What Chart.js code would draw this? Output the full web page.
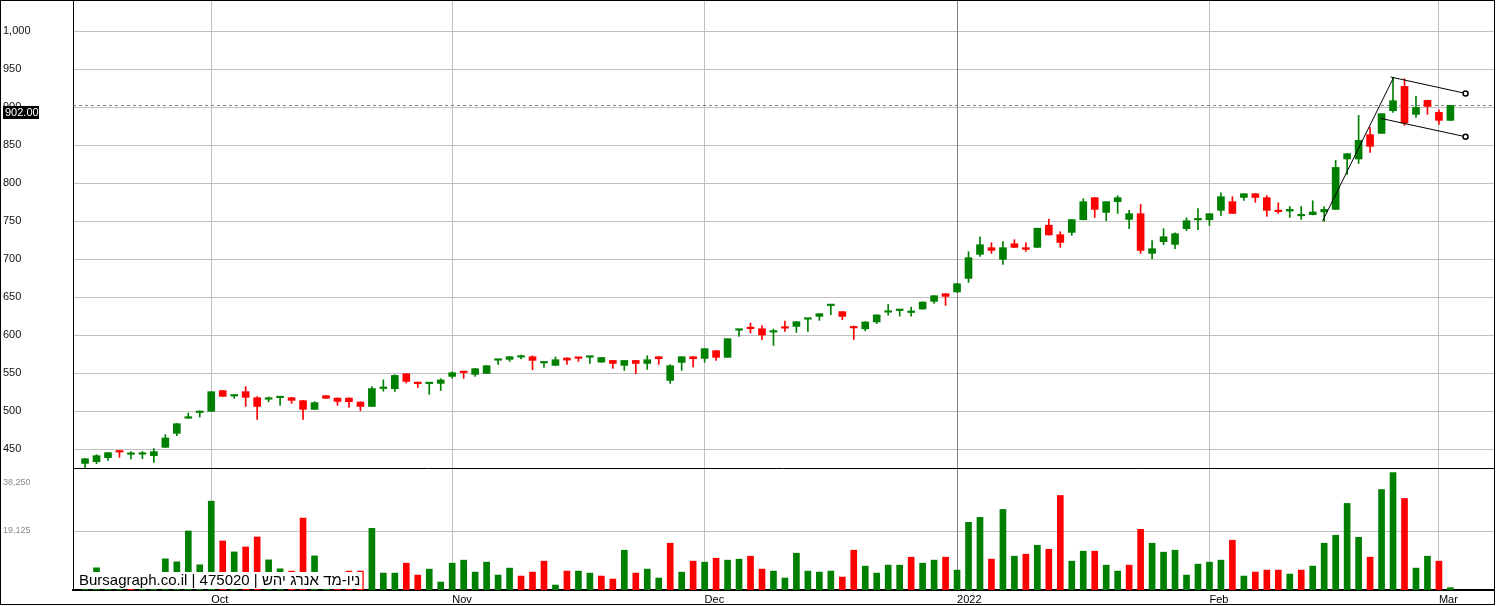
<!DOCTYPE html>
<html>
<head>
<meta charset="utf-8">
<script src="https://cdn.jsdelivr.net/npm/chart.js@4.4.1/dist/chart.umd.min.js"></script>
<style>
  html, body { margin: 0; padding: 0; background: #fff; }
  #wrap { width: 1496px; height: 606px; }
</style>
</head>
<body>
<div id="wrap"><canvas id="chart" width="1496" height="606"></canvas></div>
<script>
Chart.defaults.font.family = '"Liberation Sans", Arial, sans-serif';

// daily candles, Sep 2021 - Mar 2022 (index 0 = first session shown)
const opens = [
  431, 433.3, 438.6, 447.4, 443, 443.2, 441.2, 452.2, 470.6, 490.5,
  498, 499.6, 526.8, 519.7, 525.4, 517.5, 515.5, 517.5, 517.5, 513.6,
  502.2, 520.2, 517, 517, 511.8, 506, 529.6, 529.3, 549, 536.8,
  536, 536.3, 545.5, 550.9, 548.2, 549.5, 566.8, 567.9, 570.9, 571.4,
  563.2, 560, 569.7, 570, 570.8, 564.3, 566.5, 560, 566.5, 562.6,
  571.4, 540.3, 563.9, 571.4, 569.2, 579.4, 570.6, 606.3, 609, 608.3,
  603.8, 609.5, 611.3, 620.8, 624.5, 638.7, 630.7, 610, 608.1, 617.2,
  630, 632.2, 629.6, 634.2, 644.2, 654.3, 656.6, 674.5, 706.1, 714.9,
  699.5, 720.1, 714.9, 715.3, 744.5, 732, 735, 751.7, 780.7, 761.3,
  775.4, 752.1, 759.6, 707.4, 722.8, 719.2, 739.9, 751.5, 751.7, 764,
  775.4, 781, 785.9, 780.7, 763, 763, 756.8, 758.3, 761.9, 765.3,
  831.6, 831.6, 863.6, 865.3, 895.1, 927.1, 890.3, 908.7, 892.9, 882.4
];
const highs = [
  437.5, 442.5, 445.5, 448, 446.5, 446.6, 450.4, 469, 483.5, 497.5,
  500, 525.5, 527, 521.7, 532, 519, 518.5, 518.5, 518, 514,
  512.3, 520.5, 517.2, 517.2, 512, 532, 541, 547.7, 549.2, 538,
  537, 542.5, 551.7, 551.2, 556, 560, 567.5, 571.8, 573.7, 572.7,
  565.3, 571.1, 570, 570.2, 571.4, 570.6, 566.7, 566.7, 566.7, 572.8,
  571.6, 561, 571.5, 571.5, 582.2, 579.5, 595.3, 607, 615.8, 612.3,
  607.9, 618.4, 617.7, 621.3, 628.2, 639.2, 630.8, 611.8, 617.5, 626.6,
  640.2, 632.6, 636.8, 643.5, 651.8, 654.5, 667.6, 709.6, 729.3, 721.4,
  722.8, 725.4, 721.4, 740.6, 752.4, 735.9, 752, 779.3, 781, 775.6,
  783.3, 764, 771.8, 724.1, 739.9, 734.6, 754.3, 766.2, 759.7, 787.2,
  782, 786, 786, 783.3, 774.1, 769.1, 769.1, 776.7, 768.8, 829.7,
  838.8, 889, 873.2, 891.3, 938.6, 937.2, 914, 909, 896.4, 902.4
];
const lows = [
  425, 430.7, 435, 439, 437, 437.2, 432.5, 452, 467.5, 490.4,
  492, 499.5, 519, 516.7, 506, 489, 512, 507.5, 510, 489,
  502, 516.5, 507.4, 504.7, 500.5, 506, 526, 525.8, 536.8, 531,
  522, 527, 543, 543, 545.5, 549.3, 561.3, 565.3, 568.4, 554.3,
  557.4, 560, 561.3, 565.3, 562.6, 564.2, 556, 553.4, 549, 554.7,
  561.3, 536.3, 553.4, 558, 564.3, 566.5, 570.5, 598.2, 602.6, 593.8,
  586.3, 604.8, 603.4, 604.8, 619.2, 626.7, 620, 594.2, 605.4, 615,
  626, 624.8, 624.8, 634, 641.6, 639, 656.5, 669.2, 703.4, 707.4,
  692.9, 715, 710, 715.2, 731.5, 715.3, 731.1, 751.5, 754.7, 750.4,
  760, 739.9, 707.4, 700.4, 718.8, 713.6, 737.2, 738.6, 743.8, 757.4,
  760, 777.1, 774.5, 756.1, 760, 754.7, 752.1, 758, 749.5, 765,
  811.3, 825.7, 840.3, 865.2, 892.9, 875.8, 886.3, 890.3, 877.1, 882.3
];
const closes = [
  437.2, 441.2, 445.2, 446, 443.5, 443.6, 446.5, 464.5, 483.3, 491,
  498.5, 525.4, 519.3, 521.5, 518, 506, 516, 518, 514, 502.2,
  511, 516.7, 512.6, 512.2, 506, 529.5, 530, 546.8, 539, 536,
  536.5, 540.8, 550.4, 550.6, 555.7, 559.6, 567.3, 571.4, 571.2, 566.6,
  564.5, 567.5, 567, 569.3, 571.2, 570.4, 562.6, 566.5, 562.6, 567.5,
  568.8, 559.6, 571.4, 568.8, 582, 570.6, 595.1, 606.8, 608.3, 600,
  604.3, 609, 617.5, 621.3, 628, 639.2, 624.5, 609.3, 617.2, 626.4,
  630.6, 632.6, 630, 643.4, 651.7, 650.8, 667.5, 701.7, 718.8, 711.3,
  714.9, 715.3, 712.6, 740.5, 731.7, 721.8, 751.8, 775.4, 765.3, 775.4,
  780.7, 759.6, 711.3, 713.6, 729.3, 733.3, 750.4, 752, 759.6, 782,
  760, 785.9, 781, 764, 762.3, 765.3, 757.2, 761.9, 765.3, 820.5,
  838.6, 856.1, 848.2, 891.2, 908.3, 878.9, 899.5, 900.8, 882.4, 902
];
const volumes = [
  3000, 7190, 3500, 2500, 3000, 2800, 4000, 10100, 9130, 19125,
  8160, 28800, 15900, 12350, 13960, 17190, 9770, 6870, 6130, 23300,
  11060, 3500, 4000, 6130, 6130, 20000, 5480, 5480, 8700, 4840,
  6770, 2580, 8700, 9680, 5800, 9030, 4840, 7100, 4520, 5800,
  9350, 1610, 6130, 6130, 5480, 4520, 3550, 12900, 5480, 6770,
  3870, 15160, 5800, 9350, 9030, 10300, 9680, 10000, 10960, 6770,
  6130, 3870, 11930, 6130, 5800, 6130, 4190, 12900, 7740, 5480,
  8060, 8060, 10640, 8700, 9680, 10640, 6450, 21930, 23540, 10000,
  26120, 10960, 11610, 14510, 13220, 30640, 9350, 12580, 12580, 8060,
  6130, 8060, 19670, 15160, 12260, 12900, 4840, 8390, 9030, 9680,
  16130, 4520, 5800, 6450, 6450, 5160, 6450, 7740, 15160, 17740,
  28060, 17090, 10640, 32570, 38060, 29670, 7100, 10960, 9350, 750
];
// 1 = volume bar drawn green, 0 = red
const volUp = [
  1, 1, 1, 1, 0, 1, 1, 1, 1, 1,
  1, 1, 0, 1, 0, 0, 1, 1, 0, 0,
  1, 1, 0, 0, 0, 1, 1, 1, 0, 0,
  1, 1, 1, 1, 1, 1, 1, 1, 0, 0,
  0, 1, 0, 1, 1, 0, 0, 1, 0, 1,
  1, 0, 1, 0, 1, 0, 1, 1, 0, 0,
  1, 1, 1, 1, 1, 1, 0, 0, 1, 1,
  1, 1, 0, 1, 1, 0, 1, 1, 1, 0,
  1, 1, 0, 1, 0, 0, 1, 1, 0, 1,
  1, 0, 0, 1, 1, 1, 1, 1, 1, 1,
  0, 1, 0, 0, 0, 1, 0, 1, 1, 1,
  1, 1, 0, 1, 1, 0, 1, 1, 0, 1
];

const monthTicks = [11, 32, 54, 76, 98, 118];
const monthLabels = ['Oct', 'Nov', 'Dec', '2022', 'Feb', 'Mar'];
const yearTick = 76;
const priceTicks = [450, 500, 550, 600, 650, 700, 750, 800, 850, 900, 950, 1000];
const volumeTicks = [19125, 38250];

// hand drawn flag pattern (x = session index, y = price)
const flagPole = [{ x: 107.86, y: 750 }, { x: 114.07, y: 939.5 }];
const flagTop = [{ x: 113.79, y: 939.5 }, { x: 120.32, y: 917.9 }];
const flagBottom = [{ x: 112.94, y: 885 }, { x: 120.32, y: 860.9 }];

const watermark = 'Bursagraph.co.il | 475020 | ניו-מד אנרג יהש';

const GREEN = '#008000';
const RED = '#ff0000';
const lastClose = closes[closes.length - 1];

const candleColor = opens.map((o, i) => (closes[i] >= o ? GREEN : RED));

const chartDecor = {
  id: 'chartDecor',
  beforeDraw(chart) {
    const { ctx, width, height } = chart;
    ctx.save();
    ctx.fillStyle = '#fff';
    ctx.fillRect(0, 0, width, height);
    ctx.restore();
  },
  beforeDatasetsDraw(chart) {
    const { ctx, chartArea, scales } = chart;
    const y = Math.floor(scales.y.getPixelForValue(lastClose)) + 0.5;
    ctx.save();
    ctx.strokeStyle = '#808080';
    ctx.lineWidth = 1;
    ctx.setLineDash([3, 3]);
    ctx.beginPath();
    ctx.moveTo(chartArea.left, y);
    ctx.lineTo(chartArea.right, y);
    ctx.stroke();
    ctx.restore();
  },
  afterDatasetsDraw(chart) {
    const { ctx, chartArea } = chart;
    ctx.save();
    ctx.font = '15px "Liberation Sans", Arial, sans-serif';
    const w = ctx.measureText(watermark).width;
    const left = chartArea.left + 5;
    ctx.fillStyle = '#fff';
    ctx.fillRect(left, chartArea.bottom - 18, w + 3, 17);
    ctx.fillStyle = '#000';
    ctx.textBaseline = 'alphabetic';
    ctx.fillText(watermark, left + 1, chartArea.bottom - 5);
    ctx.restore();
  },
  afterDraw(chart) {
    const { ctx, chartArea, scales } = chart;
    ctx.save();
    // panel separator
    const sep = Math.round(scales.y.bottom) + 0.5;
    ctx.strokeStyle = '#000';
    ctx.lineWidth = 1;
    ctx.beginPath();
    ctx.moveTo(chartArea.left, sep);
    ctx.lineTo(chartArea.right, sep);
    ctx.stroke();
    // outer frame
    ctx.strokeRect(0.5, 0.5, chart.width - 2, chart.height - 2);
    // last price tag
    const y = Math.floor(scales.y.getPixelForValue(lastClose)) + 1;
    ctx.fillStyle = '#000';
    ctx.fillRect(3, y, 36, 13);
    ctx.fillStyle = '#fff';
    ctx.font = '11px "Liberation Sans", Arial, sans-serif';
    ctx.textBaseline = 'middle';
    ctx.fillText(lastClose.toFixed(2), 5, y + 7);
    ctx.restore();
  }
};

const fitY = (s) => { s.width = 70; s.paddingTop = 0; s.paddingBottom = 0; };

new Chart(document.getElementById('chart'), {
  type: 'bar',
  data: {
    datasets: [
      {
        type: 'line',
        data: flagPole,
        yAxisID: 'y',
        borderColor: '#000',
        borderWidth: 1,
        pointRadius: 0,
        order: 0
      },
      {
        type: 'line',
        data: flagTop,
        yAxisID: 'y',
        borderColor: '#000',
        borderWidth: 1,
        pointRadius: [0, 2.5],
        pointBorderWidth: 1.5,
        pointBorderColor: '#000',
        pointBackgroundColor: '#fff',
        order: 0
      },
      {
        type: 'line',
        data: flagBottom,
        yAxisID: 'y',
        borderColor: '#000',
        borderWidth: 1,
        pointRadius: [0, 2.5],
        pointBorderWidth: 1.5,
        pointBorderColor: '#000',
        pointBackgroundColor: '#fff',
        order: 0
      },
      {
        // candle bodies
        data: opens.map((o, i) => ({ x: i, y: [o, closes[i]] })),
        yAxisID: 'y',
        backgroundColor: candleColor,
        barThickness: 7,
        minBarLength: 1.5,
        grouped: false,
        order: 1
      },
      {
        // wicks
        data: lows.map((l, i) => ({ x: i, y: [l, highs[i]] })),
        yAxisID: 'y',
        backgroundColor: candleColor,
        barThickness: 1,
        grouped: false,
        order: 2
      },
      {
        // volume
        data: volumes.map((v, i) => ({ x: i, y: v })),
        yAxisID: 'yVol',
        backgroundColor: volUp.map(u => (u ? GREEN : RED)),
        barThickness: 6,
        grouped: false,
        order: 3
      }
    ]
  },
  options: {
    responsive: false,
    maintainAspectRatio: false,
    animation: false,
    events: [],
    layout: { autoPadding: false, padding: { left: 3, right: 2, top: 0, bottom: 0 } },
    plugins: {
      legend: { display: false },
      tooltip: { enabled: false }
    },
    scales: {
      y: {
        type: 'linear',
        position: 'left',
        stack: 'panels',
        stackWeight: 468,
        weight: 1,
        min: 425,
        max: 1040.8,
        afterBuildTicks: (s) => { s.ticks = priceTicks.map(v => ({ value: v })); },
        afterFit: fitY,
        grid: { color: '#c0c0c0', drawTicks: false },
        border: { color: '#000', width: 1 },
        ticks: {
          crossAlign: 'far',
          padding: 0,
          color: '#111',
          font: { size: 11 },
          callback: (v) => v.toLocaleString('en-US')
        }
      },
      yVol: {
        type: 'linear',
        position: 'left',
        stack: 'panels',
        stackWeight: 122,
        weight: 0,
        min: 0,
        max: 39547,
        afterBuildTicks: (s) => { s.ticks = volumeTicks.map(v => ({ value: v })); },
        afterFit: fitY,
        grid: {
          color: (c) => (c.tick && c.tick.value === volumeTicks[0] ? '#c0c0c0' : 'rgba(0,0,0,0)'),
          drawTicks: false
        },
        border: { color: '#000', width: 1 },
        ticks: {
          crossAlign: 'far',
          padding: 0,
          color: '#8a8a8a',
          font: { size: 9 },
          callback: (v) => (v === volumeTicks[1] ? ['', '', v.toLocaleString('en-US')] : v.toLocaleString('en-US'))
        }
      },
      x: {
        type: 'linear',
        position: 'bottom',
        offset: false,
        min: -1.05,
        max: 122.8,
        afterBuildTicks: (s) => { s.ticks = monthTicks.map(v => ({ value: v })); },
        afterFit: (s) => { s.height = 16; s.paddingLeft = 0; s.paddingRight = 0; },
        grid: {
          offset: false,
          color: (c) => (c.tick && c.tick.value === yearTick ? '#808080' : '#c0c0c0'),
          drawTicks: false
        },
        border: { color: '#000', width: 2 },
        ticks: {
          autoSkip: false,
          maxRotation: 0,
          align: 'start',
          padding: 3,
          color: '#000',
          font: { size: 11 },
          callback: (v, i) => monthLabels[i]
        }
      }
    }
  },
  plugins: [chartDecor]
});
</script>
</body>
</html>
